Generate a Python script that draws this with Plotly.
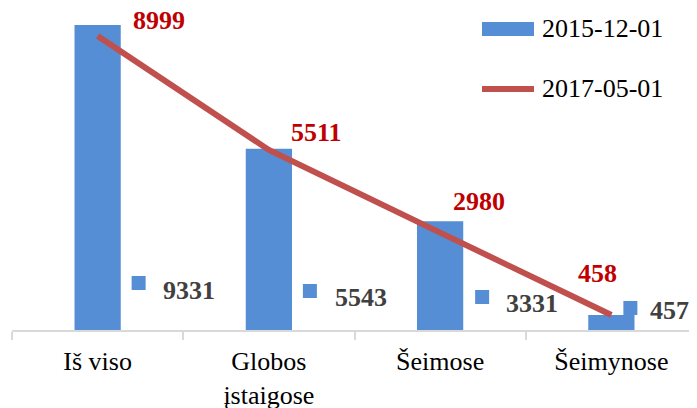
import plotly.graph_objects as go

categories = ["Iš viso", "Globos<br>įstaigose", "Šeimose", "Šeimynose"]
values_2015 = [9331, 5543, 3331, 457]
values_2017 = [8999, 5511, 2980, 458]
series_names = ["2015-12-01", "2017-05-01"]

BLUE = "#558ED5"
RED = "#C0504D"
LABEL_RED = "#C00000"
FONT = "Liberation Serif"

# the page body adds an 8px margin, so the figure is drawn 8px in from the corner
OFF = 8
W, H = 697 - OFF, 408 - OFF
BASE = 330 - OFF           # screen y of the axis line, in figure pixels
ML, MR, MT, MB = 12 - OFF, 0, 0, H - BASE
PW, PH = W - ML - MR, H - MT - MB
VAL_PER_PX = 30.6
Y_MAX = PH * VAL_PER_PX


def px_x(px):
    return (px - OFF - ML) / PW


def px_y(py):
    return (BASE - (py - OFF)) / PH


fig = go.Figure()

fig.add_trace(go.Bar(
    x=categories,
    y=values_2015,
    name=series_names[0],
    marker=dict(color=BLUE, line=dict(width=0)),
    showlegend=False,
))

fig.add_trace(go.Scatter(
    x=categories,
    y=values_2017,
    name=series_names[1],
    mode="lines",
    line=dict(color=RED, width=6),
    showlegend=False,
))

# data labels of the line (dark red, bold)
line_label_shift = [(61, 15), (48, 17), (39, 31), (-14, 42)]
for i, v in enumerate(values_2017):
    dx, dy = line_label_shift[i]
    fig.add_annotation(
        x=i, y=v, text=f"<b>{v}</b>", showarrow=False,
        xshift=dx, yshift=dy,
        font=dict(family=FONT, size=26, color=LABEL_RED),
    )

# data labels of the bars with legend key square
bar_label_shift = [(91, 40), (92, 33), (92, 27), (58, 20)]
bar_key_box = [(34, 48, 40, 54), (34, 48, 32, 46), (35, 49, 26, 40), (12, 26, 15, 29)]
for i, v in enumerate(values_2015):
    dx, dy = bar_label_shift[i]
    fig.add_annotation(
        x=i, y=0, text=f"<b>{v}</b>", showarrow=False,
        xshift=dx, yshift=dy,
        font=dict(family=FONT, size=26, color="#404040"),
    )
    x0, x1, y0, y1 = bar_key_box[i]
    fig.add_shape(
        type="rect", xref="x", yref="y",
        xsizemode="pixel", ysizemode="pixel",
        xanchor=i, yanchor=0,
        x0=x0, x1=x1, y0=y0, y1=y1,
        fillcolor=BLUE, line=dict(width=0),
    )

# legend drawn by hand
fig.add_shape(type="rect", xref="paper", yref="paper",
              x0=px_x(482), x1=px_x(534), y0=px_y(36), y1=px_y(22),
              fillcolor=BLUE, line=dict(width=0))
fig.add_shape(type="line", xref="paper", yref="paper",
              x0=px_x(482), x1=px_x(534), y0=px_y(89), y1=px_y(89),
              line=dict(color=RED, width=6))
for name, py in zip(series_names, [29, 89]):
    fig.add_annotation(
        xref="paper", yref="paper", x=px_x(540), y=px_y(py),
        xanchor="left", yanchor="middle", text=name, showarrow=False,
        font=dict(family=FONT, size=26, color="black"),
    )

fig.update_layout(
    width=W, height=H,
    margin=dict(l=ML, r=MR, t=MT, b=MB, autoexpand=False),
    paper_bgcolor="white",
    plot_bgcolor="white",
    bargap=0.73,
    font=dict(family=FONT, size=26, color="black"),
    xaxis=dict(
        type="category", automargin=False,
        showline=True, linecolor="#D9D9D9", linewidth=2,
        ticks="outside", tickson="boundaries", ticklen=8,
        tickcolor="#D9D9D9", tickwidth=2,
        ticklabelstandoff=7,
        showgrid=False,
        tickfont=dict(family=FONT, size=26, color="black"),
    ),
    yaxis=dict(
        range=[0, Y_MAX], visible=False, showgrid=False, zeroline=False,
        automargin=False,
    ),
)

fig.write_html("out.html")
